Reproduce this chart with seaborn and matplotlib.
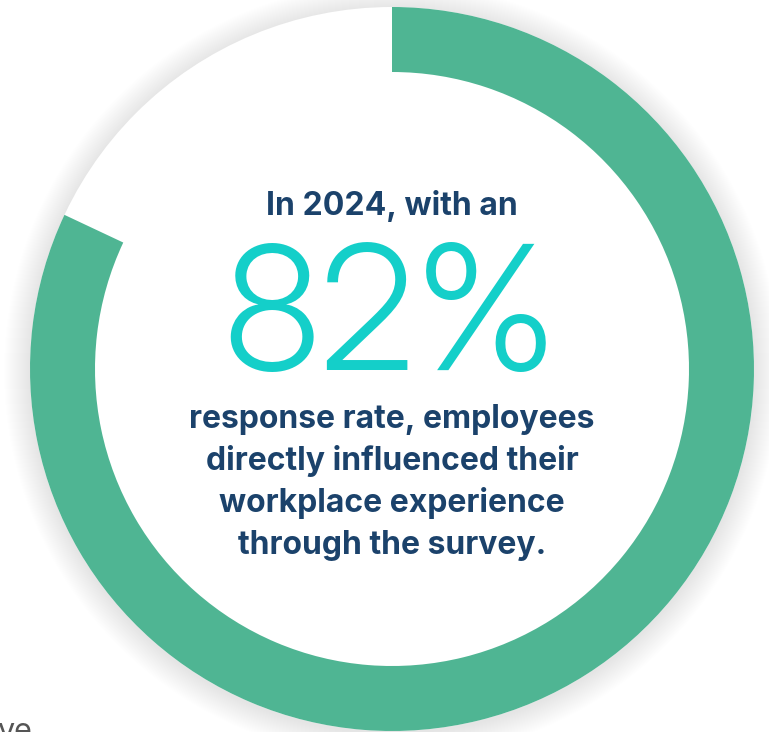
import matplotlib
matplotlib.use("Agg")
import matplotlib.pyplot as plt
from matplotlib.patches import Circle
import seaborn as sns

# data
labels = ["Responded", "Did not respond"]
values = [82, 18]
headline = "82%"
intro = "In 2024, with an"
body_lines = [
    "response rate, employees",
    "directly influenced their",
    "workplace experience",
    "through the survey.",
]

green = "#4fb593"
navy = "#1b426b"
teal = "#14cfc9"

sns.set_theme(style="white")
plt.rcParams["font.family"] = ["Inter", "DejaVu Sans"]

W, H = 769, 732
fig = plt.figure(figsize=(W / 100, H / 100), dpi=100)
ax = fig.add_axes([0, 0, 1, 1])

cx, cy = 392, H - 369
r_out, ring = 362, 65

# soft drop shadow round the disk
for k in range(26):
    ax.add_patch(Circle((cx, cy - 2), r_out + 26 - k, color="black",
                        alpha=0.003, lw=0, zorder=1))
ax.add_patch(Circle((cx, cy), r_out, color="white", lw=0, zorder=2))

wedges, _ = ax.pie(values, labels=None, startangle=90, counterclock=False,
                   radius=r_out, center=(cx, cy),
                   colors=[green, (1, 1, 1, 0)],
                   wedgeprops=dict(width=ring, linewidth=0))
for w in wedges:
    w.set_zorder(3)

ax.text(cx, H - 215, intro, ha="center", va="baseline", fontsize=23,
        fontweight="bold", color=navy, zorder=4)
ax.text(390, H - 370, headline, ha="center", va="baseline", fontsize=124,
        fontweight=300, family=["Inter Display", "Inter", "DejaVu Sans"],
        color=teal, zorder=4)
for i, line in enumerate(body_lines):
    ax.text(cx, H - 428 - 42 * i, line, ha="center", va="baseline",
            fontsize=23, fontweight="bold", color=navy, zorder=4)

# cut-off text at the bottom edge
ax.text(-3, -8, "ve", ha="left", va="baseline", fontsize=22, color="#555555",
        zorder=4)

ax.set_xlim(0, W)
ax.set_ylim(0, H)
ax.set_aspect("equal")
ax.axis("off")

fig.savefig("out.png", dpi=100, facecolor="white")
